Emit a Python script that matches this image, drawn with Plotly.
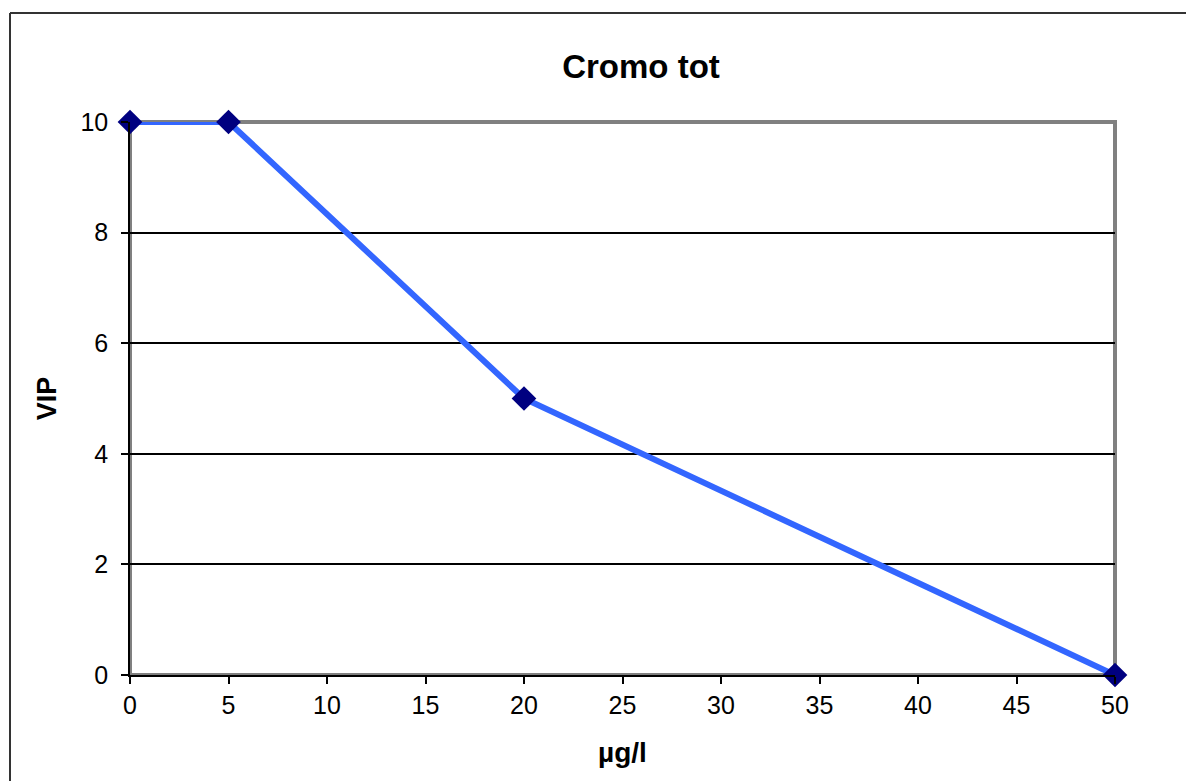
import plotly.graph_objects as go

x_vals = [0, 5, 20, 50]
y_vals = [10, 10, 5, 0]
x_ticks = [0, 5, 10, 15, 20, 25, 30, 35, 40, 45, 50]
y_ticks = [0, 2, 4, 6, 8, 10]
title_text = "Cromo tot"
x_title = "µg/l"
y_title = "VIP"

W, H = 1186, 781
L, R, T, B = 130, 71, 122, 106
pw, ph = W - L - R, H - T - B

def px(xp):
    return (xp - L) / pw

def py(yp):
    return (H - B - yp) / ph

fig = go.Figure()
fig.add_trace(go.Scatter(
    x=x_vals, y=y_vals, mode="lines+markers",
    line=dict(color="#3366FF", width=6),
    marker=dict(symbol="diamond", size=19, color="#000080"),
    cliponaxis=False, showlegend=False,
))

font = "Liberation Sans, Arial, sans-serif"
fig.update_layout(
    width=W, height=H,
    margin=dict(l=L, r=R, t=T, b=B),
    paper_bgcolor="white", plot_bgcolor="white",
    title=dict(text="<b>" + title_text + "</b>", x=px(641), xref="paper", xanchor="center",
               y=1 - 66 / H, yanchor="middle", font=dict(family=font, size=33, color="black")),
    font=dict(family=font, color="black"),
    shapes=[
        dict(type="rect", xref="paper", yref="paper", x0=0, x1=1, y0=0, y1=1,
             line=dict(color="#808080", width=4), layer="below"),
        dict(type="line", xref="paper", yref="paper", x0=px(10), x1=px(1200), y0=py(13), y1=py(13),
             line=dict(color="#333333", width=2)),
        dict(type="line", xref="paper", yref="paper", x0=px(10), x1=px(10), y0=py(13), y1=py(800),
             line=dict(color="#333333", width=2)),
    ],
)
fig.update_xaxes(
    range=[0, 50], tickvals=x_ticks, ticktext=[str(v) for v in x_ticks],
    showgrid=False, zeroline=False, showline=True, linecolor="black", linewidth=1.5,
    ticks="outside", ticklen=7, tickwidth=1.5, tickcolor="black",
    tickfont=dict(size=25, family=font, color="black"),
    title=dict(text="<b>" + x_title + "</b>", font=dict(size=28, family=font, color="black"), standoff=25),
)
fig.update_yaxes(
    range=[0, 10], tickvals=y_ticks, ticktext=[str(v) for v in y_ticks],
    showgrid=True, gridcolor="black", gridwidth=1.5, zeroline=False,
    showline=True, linecolor="black", linewidth=1.5,
    ticks="outside", ticklen=7, tickwidth=1.5, tickcolor="black",
    ticklabelstandoff=8,
    tickfont=dict(size=25, family=font, color="black"),
    title=dict(text="<b>" + y_title + "</b>", font=dict(size=27, family=font, color="black"), standoff=16),
)

fig.write_html("out.html")
